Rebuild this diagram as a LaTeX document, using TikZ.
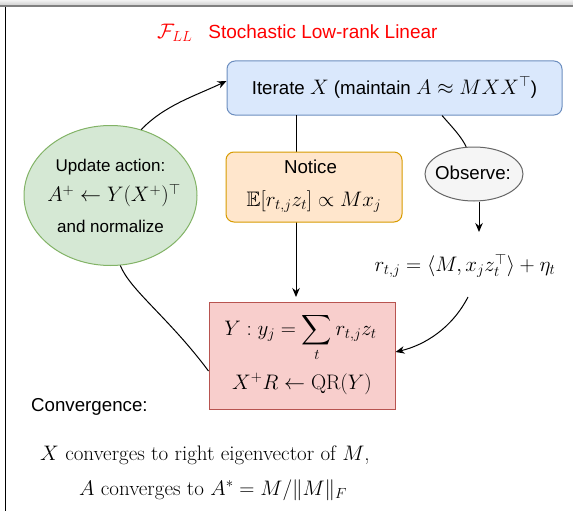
\RequirePackage{fix-cm}
\documentclass[tikz,border=0pt]{standalone}
\usepackage{amsmath,amssymb}
\usepackage{fontspec}
\newfontfamily\arial{Liberation Sans}
\usetikzlibrary{arrows.meta,shapes.geometric}
\definecolor{bluefill}{HTML}{DAE8FC}\definecolor{bluestroke}{HTML}{6C8EBF}
\definecolor{orfill}{HTML}{FFE6CC}\definecolor{orstroke}{HTML}{D79B00}
\definecolor{grfill}{HTML}{D5E8D4}\definecolor{grstroke}{HTML}{82B366}
\definecolor{gyfill}{HTML}{F5F5F5}\definecolor{gystroke}{HTML}{666666}
\definecolor{rdfill}{HTML}{F8CECC}\definecolor{rdstroke}{HTML}{B85450}
\newcommand\mth[1]{{\fontsize{21}{25}\selectfont$#1$}}
\tikzset{
  lbl/.style={inner sep=0pt, anchor=base, font=\arial\fontsize{18.7}{22}\selectfont, text=black},
  slbl/.style={lbl, font=\arial\fontsize{17}{20}\selectfont},
  mlbl/.style={inner sep=0pt, anchor=base, font=\fontsize{21}{25}\selectfont, text=black},
  shp/.style={inner sep=0pt, line width=1pt},
  con/.style={line width=1pt, draw=black},
  arr/.style={con, -{Stealth[length=9pt,width=7.5pt]}},
}
\begin{document}
\begin{tikzpicture}[x=1pt,y=-1pt]
\useasboundingbox (0,0) rectangle (573,511);
% screenshot frame
\shade[top color=white!95!black, bottom color=white!82!black] (0,0) rectangle (573,5);
\fill[black!50] (0,5) rectangle (573,7);
\draw[line width=1.6pt] (5.3,7) -- (5.3,511);

% title
\node[lbl, anchor=base west, text=red] (title) at (157,38.5) {\mth{\mathcal{F}_{LL}}\hspace{16pt}\fontsize{19}{22}\selectfont Stochastic Low-rank Linear};

% shapes
\node[shp, draw=grstroke, fill=grfill, ellipse, minimum width=173pt, minimum height=140pt] (ell) at (110.5,195.5) {};
\node[shp, draw=gystroke, fill=gyfill, ellipse, minimum width=98pt, minimum height=54pt] (obs) at (474,174) {};
\node[shp, draw=rdstroke, fill=rdfill, minimum width=186pt, minimum height=107pt] (red) at (302,355.5) {};
\node[shp, draw=bluestroke, fill=bluefill, rounded corners=8pt, minimum width=335pt, minimum height=54pt] (blue) at (394.5,88) {};

% connectors
\coordinate (vstart) at (296,115);
\coordinate (vend) at (296,297);
\draw[arr] (vstart) -- (vend);
\draw[arr] (ell.65) .. controls (165,105) and (195,96) .. ([yshift=7pt]blue.west);
\draw[con] (ell.-82) .. controls (130,290) and (169,318) .. ([yshift=-15.5pt]red.west);
\draw[con] ([xshift=47.5pt]blue.south) .. controls (452,127) and (461,136) .. (obs.106);
\coordinate (obsend) at (479,232);
\draw[arr] (obs.south -| obsend) -- (obsend);
\coordinate (formout) at (468,297);
\draw[arr] (formout) .. controls (452,328) and (425,345) .. ([yshift=3.5pt]red.east);

\node[shp, draw=orstroke, fill=orfill, rounded corners=8pt, minimum width=176pt, minimum height=70pt] (ora) at (314,187) {};

% texts
\node[lbl] (bluetxt) at (394.5,94.5) {Iterate \mth{X} (maintain \mth{A\approx MXX^\top})};
\node[slbl] (upd) at (110.5,171.7) {Update action:};
\node[mlbl] (updm) at (114,201.7) {$A^+\leftarrow Y(X^+)^\top$};
\node[slbl] (norm) at (110.5,232.7) {and normalize};
\node[lbl] (notice) at (310.5,173.3) {Notice};
\node[mlbl] (noticem) at (314,206) {$\mathbb{E}[r_{t,j}z_t]\propto Mx_j$};
\node[lbl] (obstxt) at (473,179.3) {Observe:};
\node[mlbl] (form) at (465,271.7) {$r_{t,j}=\langle M, x_j z_t^\top\rangle+\eta_t$};
\node[mlbl] (redl1) at (300.5,335) {$\displaystyle Y: y_j=\sum_t r_{t,j}z_t$};
\node[mlbl] (redl2) at (302,389) {$X^+R\leftarrow \mathrm{QR}(Y)$};
\node[lbl, anchor=base west] (conv) at (31,411) {Convergence:};
\node[mlbl, anchor=base west] (c1) at (40,460) {$X$ converges to right eigenvector of $M$,};
\node[mlbl, anchor=base west] (c2) at (79,495) {$A$ converges to $A^*=M/\|M\|_F$};
\end{tikzpicture}
\end{document}
